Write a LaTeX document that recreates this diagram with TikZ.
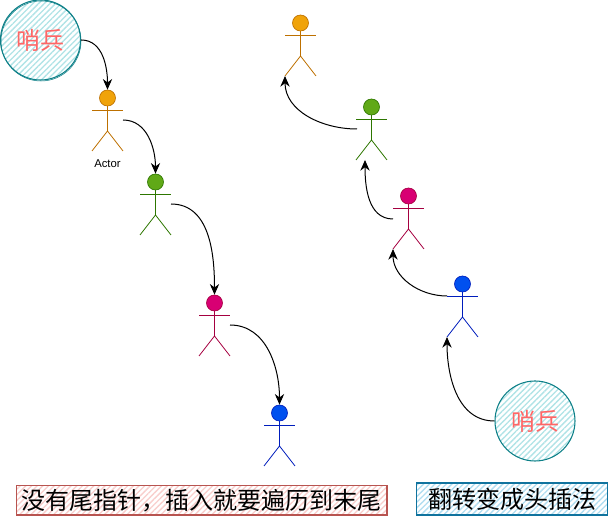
\documentclass[tikz,border=0pt]{standalone}
\usepackage{fontspec}
\setmainfont{Liberation Sans}
\newfontfamily\cjk{Noto Sans CJK SC}
\usetikzlibrary{arrows.meta,patterns.meta}
\definecolor{tealline}{HTML}{0E8088}
\definecolor{tealfill}{HTML}{B0E3E6}
\definecolor{redline}{HTML}{B85450}
\definecolor{redfill}{HTML}{F8CECC}
\definecolor{blueline}{HTML}{10739E}
\definecolor{bluefill}{HTML}{B1DDF0}
\definecolor{sentineltext}{HTML}{FF6666}
\definecolor{orangefill}{HTML}{F0A30A}
\definecolor{orangeline}{HTML}{BD7000}
\definecolor{greenfill}{HTML}{60A917}
\definecolor{greenline}{HTML}{2D7600}
\definecolor{pinkfill}{HTML}{D80073}
\definecolor{pinkline}{HTML}{A50040}
\definecolor{nodefill}{HTML}{0050EF}
\definecolor{nodeline}{HTML}{001DBC}
\tikzset{
  sentinel/.style={circle,draw=tealline,line width=0.8pt,minimum size=60pt,inner sep=0pt,
    pattern={Lines[angle=45,distance=3pt,line width=1pt]},pattern color=tealfill,
    text=sentineltext,font=\cjk\fontsize{18}{18}\selectfont},
  redbox/.style={draw=redline,line width=1pt,minimum width=278pt,minimum height=22pt,inner sep=0pt,
    pattern={Lines[angle=45,distance=3pt,line width=1pt]},pattern color=redfill,
    font=\cjk\fontsize{18}{18}\selectfont},
  bluebox/.style={draw=blueline,line width=1pt,minimum width=143pt,minimum height=24pt,inner sep=0pt,
    pattern={Lines[angle=45,distance=3pt,line width=1pt]},pattern color=bluefill,
    font=\cjk\fontsize{18}{18}\selectfont},
  head/.style={circle,minimum size=12pt,inner sep=0pt,line width=0.5pt},
  link/.style={-{Stealth[length=8pt,width=7pt]},line width=0.75pt,black}
}
% name, x, y, fill, line
\newcommand{\actor}[5]{
  \node[head,draw=#5,fill=#4] (#1) at (#2,#3) {};
  \coordinate (#1hip) at (#2,#3+33);
  \coordinate (#1right) at (#2+15.5,#3+22);
  \coordinate (#1lefta) at (#2-15.5,#3+12);
  \coordinate (#1righta) at (#2+15.5,#3+12);
  \coordinate (#1leftf) at (#2-15.5,#3+53);
  \coordinate (#1rightf) at (#2+15.5,#3+53);
  \draw[#5,line width=0.6pt] (#1) -- (#1hip);
  \draw[#5,line width=0.6pt] (#1lefta) -- (#1righta);
  \draw[#5,line width=0.6pt] (#1leftf) -- (#1hip) -- (#1rightf);
}
\begin{document}
\begin{tikzpicture}[x=0.75pt,y=-0.75pt]
    \useasboundingbox (0,0) rectangle (608,523);

    % Left list
    \node[sentinel] (S1) at (40.5,40) {哨兵};
    \draw[tealline,line width=0.4pt] (41,41) circle (30pt);
    \actor{A1}{107.5}{98}{orangefill}{orangeline}
    \actor{A2}{155.5}{182}{greenfill}{greenline}
    \actor{A3}{214.5}{303}{pinkfill}{pinkline}
    \actor{A4}{279.5}{413}{nodefill}{nodeline}
    \node[font=\fontsize{8.5}{8.5}\selectfont] (L1) at (107.5,163.5) {Actor};

    \draw[link] (S1.east) to[out=0,in=90] (A1.north);
    \draw[link] (A1right) to[out=0,in=90] (A2.north);
    \draw[link] (A2right) to[out=0,in=90] (A3.north);
    \draw[link] (A3right) to[out=0,in=90] (A4.north);

    % Right list
    \node[sentinel] (S2) at (535,421) {哨兵};
    \actor{B1}{300.5}{23}{orangefill}{orangeline}
    \actor{B2}{371.5}{107}{greenfill}{greenline}
    \actor{B3}{408.5}{196}{pinkfill}{pinkline}
    \actor{B4}{462.5}{284}{nodefill}{nodeline}

    \coordinate (B2start) at (357,129);
    \coordinate (B3start) at (393,219);
    \coordinate (B4start) at (447,296);
    \draw[link] (S2.west) to[out=180,in=-90] (B4leftf);
    \draw[link] (B4start) to[out=180,in=-90] (B3leftf);
    \draw[link] (B3start) to[out=180,in=-90] ([xshift=6.75pt]B2leftf);
    \draw[link] (B2start) to[out=180,in=-90] (B1leftf);

    % Captions
    \node[redbox] (C1) at (201.5,500.5) {没有尾指针，插入就要遍历到末尾};
    \node[bluebox] (C2) at (512,499) {翻转变成头插法};
\end{tikzpicture}
\end{document}
